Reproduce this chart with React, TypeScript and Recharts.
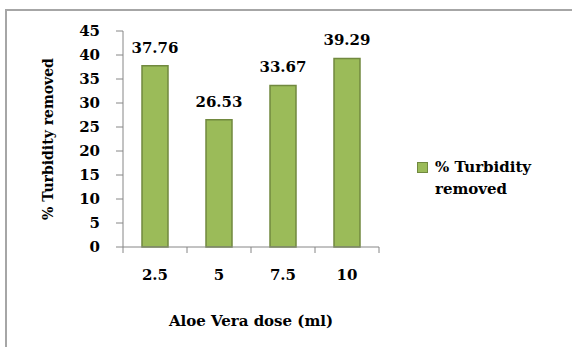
import React from 'react';
import { BarChart, Bar, XAxis, YAxis, Legend, LabelList } from 'recharts';

const doses = ['2.5', '5', '7.5', '10'];
const turbidityRemoved = [37.76, 26.53, 33.67, 39.29];
const yTicks = [0, 5, 10, 15, 20, 25, 30, 35, 40, 45];

const seriesName = '% Turbidity removed';
const xTitle = 'Aloe Vera dose (ml)';

const data = doses.map((d, i) => ({ dose: d, value: turbidityRemoved[i] }));

const FONT = '"DejaVu Serif", "Liberation Serif", serif';
const BAR_FILL = '#9bbb59';
const BAR_STROKE = '#71893f';
const AXIS = '#868686';
const TEXT = '#000';

/* ── X tick: Excel-style tick marks between categories ─────────────────── */
const XTick = ({ x, y, payload, index }: any) => {
    const half = payload.offset ?? 0;
    const last = index === doses.length - 1;
    return (
        <g>
            <line x1={x - half} x2={x - half} y1={y} y2={y + 6} stroke={AXIS} />
            {last && <line x1={x + half} x2={x + half} y1={y} y2={y + 6} stroke={AXIS} />}
            <text x={x} y={y + 33} textAnchor="middle" fill={TEXT}
                  fontFamily={FONT} fontWeight="bold" fontSize={15}>
                {payload.value}
            </text>
        </g>
    );
};

const XTitle = ({ viewBox }: any) => (
    <text x={viewBox.x + viewBox.width / 2} y={viewBox.y + 79} textAnchor="middle"
          fill={TEXT} fontFamily={FONT} fontWeight="bold" fontSize={15}>
        {xTitle}
    </text>
);

const YTitle = ({ viewBox }: any) => {
    const cx = viewBox.x + 5;
    const cy = viewBox.y + viewBox.height / 2;
    return (
        <text x={cx} y={cy} transform={`rotate(-90, ${cx}, ${cy})`} textAnchor="middle"
              dominantBaseline="central" fill={TEXT} fontFamily={FONT} fontWeight="bold" fontSize={14}>
            {seriesName}
        </text>
    );
};

const LegendBox = () => (
    <div style={{ display: 'flex', alignItems: 'flex-start', fontFamily: FONT, fontWeight: 'bold',
                  fontSize: 15, color: TEXT, lineHeight: '22px' }}>
        <div style={{ width: 9, height: 9, background: BAR_FILL, border: `1px solid ${BAR_STROKE}`,
                      marginTop: 6, marginRight: 7, flexShrink: 0 }} />
        <div style={{ width: 120 }}>{seriesName}</div>
    </div>
);

export default function App() {
    return (
        <div style={{ position: 'fixed', left: 0, top: 0, width: 572, height: 347,
                      overflow: 'hidden', background: '#fff' }}>
            <div style={{ position: 'absolute', left: 5, top: 9, width: 700, height: 500,
                          border: '2px solid #a6a6a6', pointerEvents: 'none' }} />
            <BarChart width={572} height={347} data={data}
                      margin={{ top: 31, right: 193, left: 43, bottom: 10 }}>
                <YAxis
                    domain={[0, 45]}
                    ticks={yTicks}
                    interval={0}
                    width={80}
                    stroke={AXIS}
                    tickSize={7}
                    tickMargin={16}
                    tick={{ fill: TEXT, fontFamily: FONT, fontWeight: 'bold', fontSize: 15 }}
                    label={<YTitle />}
                />
                <XAxis
                    dataKey="dose"
                    height={90}
                    stroke={AXIS}
                    tickLine={false}
                    tickSize={0}
                    tickMargin={0}
                    interval={0}
                    tick={<XTick />}
                    label={<XTitle />}
                />
                <Legend content={<LegendBox />} layout="vertical" align="center" verticalAlign="middle"
                        wrapperStyle={{ left: 417, top: 156, width: 150 }} />
                <Bar dataKey="value" name={seriesName} fill={BAR_FILL} stroke={BAR_STROKE}
                     strokeWidth={1.5} barSize={26} isAnimationActive={false}>
                    <LabelList dataKey="value" position="top" offset={13} fill={TEXT}
                               fontFamily={FONT} fontWeight="bold" fontSize={15}
                               formatter={(v: any) => Number(v).toFixed(2)} />
                </Bar>
            </BarChart>
        </div>
    );
}
